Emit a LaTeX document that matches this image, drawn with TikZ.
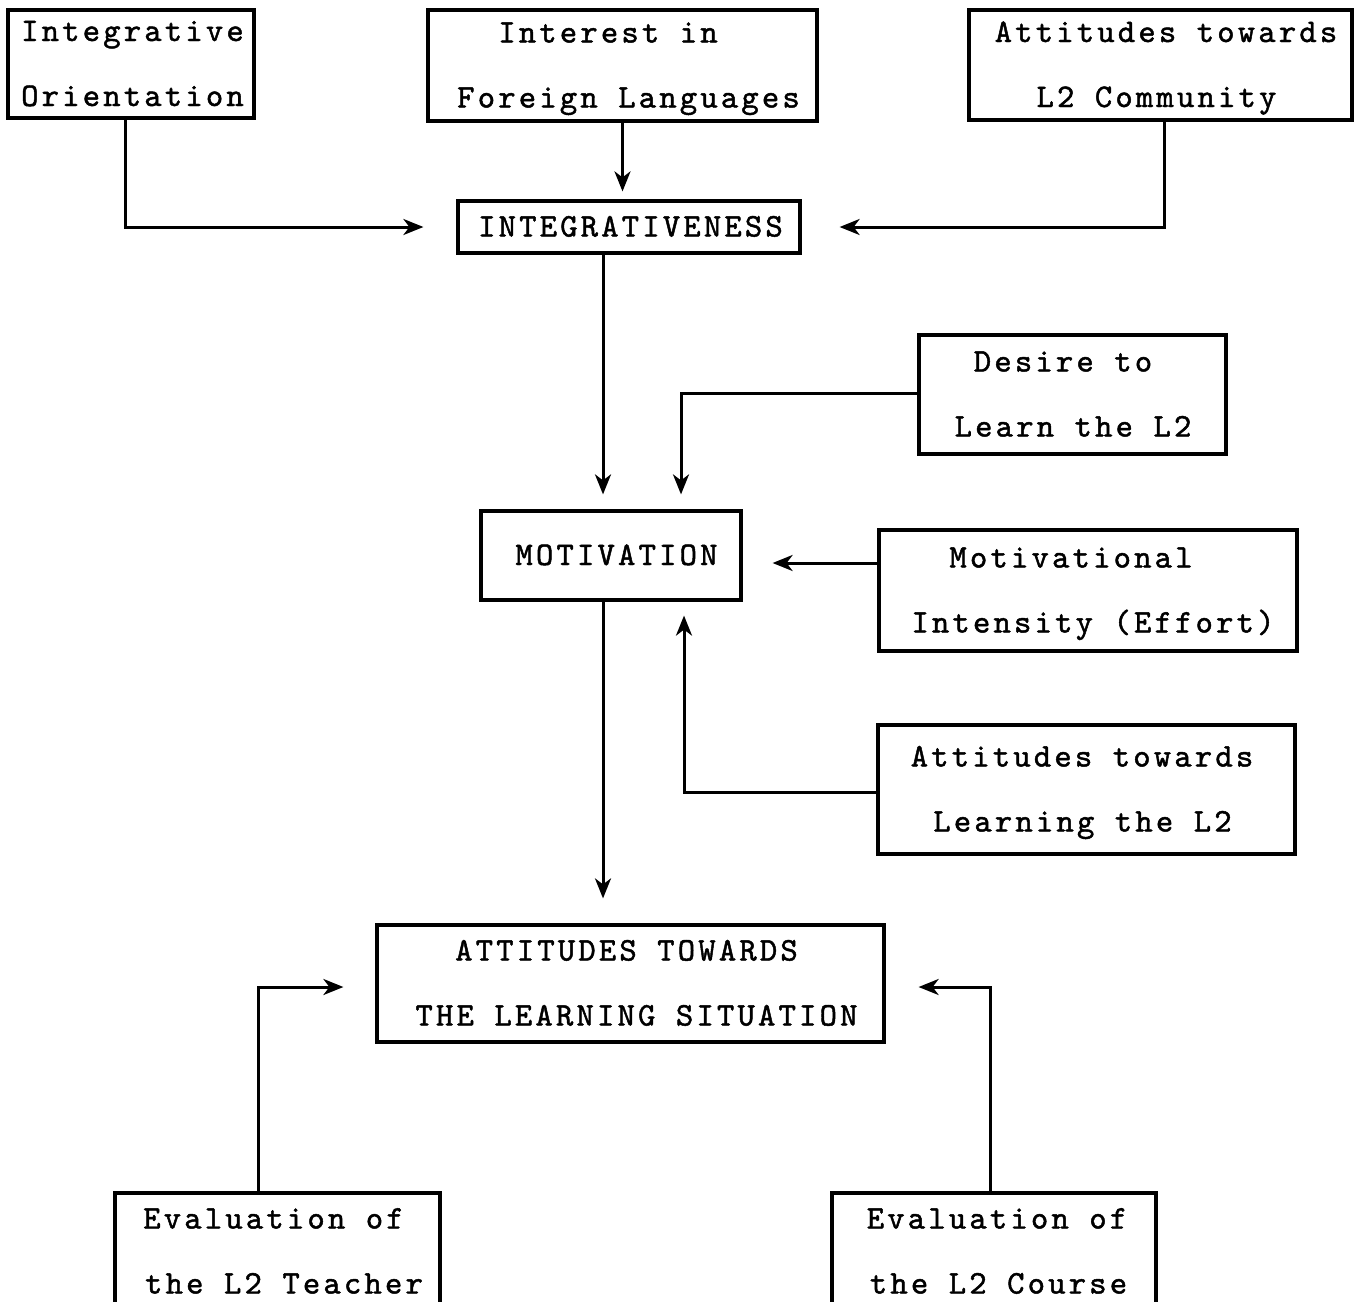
\documentclass[tikz,border=0pt]{standalone}
\usepackage{fontspec}
\usetikzlibrary{arrows.meta}
\newfontfamily\twfam{lmmono10-regular.otf}[LetterSpace=9.7,FakeBold=1.4]
\newcommand{\vs}{\rule[-8pt]{0pt}{35pt}}
\newcommand{\mv}[1]{\kern#1pt\relax}
\newcommand{\twfont}{\twfam\fontsize{33}{65}\selectfont}
\tikzset{
  box/.style={draw, line width=3.2pt, inner sep=0pt, align=center, font=\twfont},
  arr/.style={line width=3pt, -{Stealth[length=20pt,width=16pt,inset=6pt]}}
}
\begin{document}
\begin{tikzpicture}[x=1pt,y=-1pt]
\useasboundingbox (0,0) rectangle (1357,1301);
\clip (0,0) rectangle (1357,1301);
\node[box, minimum width=246pt, minimum height=108pt] (io) at (131,64) {\vs\mv{3}Integrative\\\vs\mv{3}Orientation};
\node[box, minimum width=389pt, minimum height=111pt] (ifl) at (622.5,65.5) {\vs\mv{-29}Interest in\\\vs\mv{12}Foreign Languages};
\node[box, minimum width=383pt, minimum height=110pt] (alc) at (1160.5,65) {\vs\mv{11}Attitudes towards\\\vs\mv{-8}L2 Community};
\node[box, minimum width=342pt, minimum height=52pt] (int) at (629,227) {\vs\mv{3}INTEGRATIVENESS};
\node[box, minimum width=307pt, minimum height=119pt] (des) at (1072.5,394.5) {\vs\mv{-19}Desire to\\\vs\mv{1}Learn the L2};
\node[box, minimum width=260pt, minimum height=89pt] (mot) at (611,555.5) {\vs\mv{11}MOTIVATION};
\node[box, minimum width=418pt, minimum height=121pt] (mi) at (1088,590.5) {\vs\mv{-34}Motivational\\\vs\mv{10}Intensity (Effort)};
\node[box, minimum width=417pt, minimum height=129pt] (all) at (1086.5,789.5) {\vs\mv{-9}Attitudes towards\\\vs\mv{-8}Learning the L2};
\node[box, minimum width=507pt, minimum height=117pt] (als) at (630.5,983.5) {\vs\mv{-8}ATTITUDES TOWARDS\\\vs\mv{12}THE LEARNING SITUATION};
\node[box, minimum width=325pt, minimum height=117pt] (evt) at (277.5,1251.5) {\vs\mv{-8}Evaluation of\\\vs\mv{13}the L2 Teacher};
\node[box, minimum width=324pt, minimum height=117pt] (evc) at (994,1251.5) {\vs\mv{6}Evaluation of\\\vs\mv{9}the L2 Course};

\draw[arr, shorten >=33pt] ([xshift=-6pt]io.south) |- (int.west);
\draw[arr, shorten >=8pt] (ifl.south) -- (ifl.south |- int.north);
\draw[arr, shorten >=38pt] ([xshift=3.5pt]alc.south) |- (int.east);
\draw[arr, shorten >=15pt] ([xshift=-26pt]int.south) -- ([xshift=-26pt]int.south |- mot.north);
\draw[arr, shorten >=15pt] ([yshift=1.5pt]des.west) -| ([xshift=70pt]mot.north);
\draw[arr, shorten >=30pt] ([yshift=27.5pt]mi.west) -- ([yshift=27.5pt]mi.west -| mot.east);
\draw[arr, shorten >=14pt] ([yshift=-2.5pt]all.west) -| ([xshift=73pt]mot.south);
\draw[arr, shorten >=25pt] ([xshift=-8pt]mot.south) -- ([xshift=-8pt]mot.south |- als.north);
\draw[arr, shorten >=32pt] ([xshift=-19.5pt]evt.north) |- ([yshift=-3.5pt]als.west);
\draw[arr, shorten >=33pt] ([xshift=-4pt]evc.north) |- ([yshift=-3.5pt]als.east);
\end{tikzpicture}
\end{document}
